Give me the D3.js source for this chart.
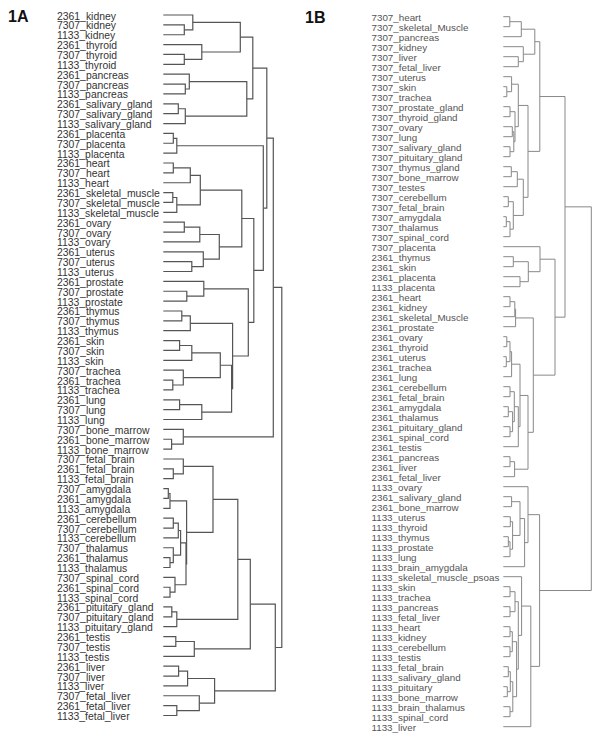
<!DOCTYPE html>
<html lang="en">
<head>
<meta charset="utf-8">
<title>Dendrograms 1A / 1B</title>
<script src="https://d3js.org/d3.v7.min.js"></script>
<style>
  body { margin: 0; background: #fff; }
  text { font-family: "Liberation Sans", Arial, sans-serif; }
</style>
</head>
<body>
<script>
var width = 600, height = 739;

// ---- panel 1A: leaves in plotted order ----
var leavesA = [
  "2361_kidney", "7307_kidney", "1133_kidney",
  "2361_thyroid", "7307_thyroid", "1133_thyroid",
  "2361_pancreas", "7307_pancreas", "1133_pancreas",
  "2361_salivary_gland", "7307_salivary_gland", "1133_salivary_gland",
  "2361_placenta", "7307_placenta", "1133_placenta",
  "2361_heart", "7307_heart", "1133_heart",
  "2361_skeletal_muscle", "7307_skeletal_muscle", "1133_skeletal_muscle",
  "2361_ovary", "7307_ovary", "1133_ovary",
  "2361_uterus", "7307_uterus", "1133_uterus",
  "2361_prostate", "7307_prostate", "1133_prostate",
  "2361_thymus", "7307_thymus", "1133_thymus",
  "2361_skin", "7307_skin", "1133_skin",
  "7307_trachea", "2361_trachea", "1133_trachea",
  "2361_lung", "7307_lung", "1133_lung",
  "7307_bone_marrow", "2361_bone_marrow", "1133_bone_marrow",
  "7307_fetal_brain", "2361_fetal_brain", "1133_fetal_brain",
  "7307_amygdala", "2361_amygdala", "1133_amygdala",
  "2361_cerebellum", "7307_cerebellum", "1133_cerebellum",
  "7307_thalamus", "2361_thalamus", "1133_thalamus",
  "7307_spinal_cord", "2361_spinal_cord", "1133_spinal_cord",
  "2361_pituitary_gland", "7307_pituitary_gland", "1133_pituitary_gland",
  "2361_testis", "7307_testis", "1133_testis",
  "2361_liver", "7307_liver", "1133_liver",
  "7307_fetal_liver", "2361_fetal_liver", "1133_fetal_liver"
];

// merges: [first leaf, first leaf of 2nd branch, last leaf, height]
var mergesA = [
  [1,2,2,21], [0,1,2,29.5], [4,5,5,21], [3,4,5,38.5], [0,3,5,77],
  [7,8,8,22], [6,7,8,26], [9,10,10,15], [9,11,11,22], [6,9,11,83.5], [0,6,11,89.5],
  [12,13,13,10], [12,14,14,13.5],
  [15,16,16,10], [15,17,17,27], [18,19,19,9.5], [18,20,20,13.5], [15,18,20,37],
  [21,22,22,21], [21,23,23,36.5], [25,26,26,28.5], [24,25,26,40], [21,24,26,56], [15,21,26,78.5],
  [28,29,29,23.5], [27,28,29,40.5],
  [30,31,31,18.5], [30,32,32,27],
  [33,34,34,16.3], [33,35,35,28.5], [37,38,38,9.5], [36,37,38,20], [33,36,38,57],
  [39,40,40,16.3], [39,41,41,38.5], [33,39,41,68.3], [30,33,41,69.3],
  [27,30,41,85], [15,27,41,90.5], [12,15,41,100], [0,12,41,103.5],
  [43,44,44,8.3], [42,43,44,20], [0,42,44,110],
  [46,47,47,10], [45,46,47,20],
  [48,49,49,5], [48,50,50,6.7],
  [51,52,52,10], [51,53,53,15], [55,56,56,6.7], [54,55,56,10], [51,54,56,17.3],
  [58,59,59,6.7], [57,58,59,11.7], [51,57,59,22.7], [48,51,59,23.3], [45,48,59,49.7],
  [60,61,61,8.5], [60,62,62,13.5], [45,60,62,74.5],
  [63,64,64,12.5], [63,65,65,31], [45,63,65,87],
  [66,67,67,15.3], [66,68,68,24.3], [70,71,71,13.5], [69,70,71,36], [66,69,71,51.3],
  [45,66,71,112], [0,45,71,118.5]
];

// ---- panel 1B ----
var leavesB = [
  "7307_heart", "7307_skeletal_Muscle", "7307_pancreas", "7307_kidney", "7307_liver",
  "7307_fetal_liver", "7307_uterus", "7307_skin", "7307_trachea", "7307_prostate_gland",
  "7307_thyroid_gland", "7307_ovary", "7307_lung", "7307_salivary_gland", "7307_pituitary_gland",
  "7307_thymus_gland", "7307_bone_marrow", "7307_testes", "7307_cerebellum", "7307_fetal_brain",
  "7307_amygdala", "7307_thalamus", "7307_spinal_cord", "7307_placenta", "2361_thymus",
  "2361_skin", "2361_placenta", "1133_placenta", "2361_heart", "2361_kidney",
  "2361_skeletal_Muscle", "2361_prostate", "2361_ovary", "2361_thyroid", "2361_uterus",
  "2361_trachea", "2361_lung", "2361_cerebellum", "2361_fetal_brain", "2361_amygdala",
  "2361_thalamus", "2361_pituitary_gland", "2361_spinal_cord", "2361_testis", "2361_pancreas",
  "2361_liver", "2361_fetal_liver", "1133_ovary", "2361_salivary_gland", "2361_bone_marrow",
  "1133_uterus", "1133_thyroid", "1133_thymus", "1133_prostate", "1133_lung",
  "1133_brain_amygdala", "1133_skeletal_muscle_psoas", "1133_skin", "1133_trachea", "1133_pancreas",
  "1133_fetal_liver", "1133_heart", "1133_kidney", "1133_cerebellum", "1133_testis",
  "1133_fetal_brain", "1133_salivary_gland", "1133_pituitary", "1133_bone_marrow", "1133_brain_thalamus",
  "1133_spinal_cord", "1133_liver"
];

var mergesB = [
  [0,1,1,6.5], [0,2,2,18], [4,5,5,15], [3,4,5,20], [0,3,5,31.5],
  [7,8,8,3.5], [6,7,8,8.3], [9,10,10,6.7], [11,12,12,9], [13,14,14,6.7],
  [11,13,14,10.5], [9,11,14,11.7], [6,9,14,15],
  [15,16,16,8], [15,17,17,14], [18,19,19,5], [20,21,21,3], [20,22,22,6.7],
  [18,20,22,10], [15,18,22,20], [6,15,22,24.7], [0,6,22,36.5],
  [24,25,25,10], [26,27,27,16.7], [24,26,27,25], [23,24,27,36.7],
  [28,29,29,6.7], [28,30,30,11.5], [28,31,31,12.3],
  [32,33,33,3.5], [34,35,35,3], [32,34,35,6.7], [32,36,36,8.3],
  [37,38,38,6.7], [39,40,40,5], [41,42,42,6.7], [39,41,42,9.3], [37,39,42,11], [37,43,43,15],
  [32,37,43,16.7], [44,45,45,6.7], [44,46,46,11.3], [32,44,46,24.7],
  [28,32,46,30], [23,28,46,51.7], [0,23,46,61.7],
  [48,49,49,8.3], [50,51,51,7], [52,53,53,5], [52,54,54,6.7], [50,52,54,9.3],
  [48,50,54,16.7], [48,55,55,21.3], [47,48,55,24.7],
  [57,58,58,6.7], [59,60,60,6.7], [57,59,60,11.7],
  [61,62,62,6.7], [63,64,64,6.7], [61,63,64,9],
  [65,66,66,5], [67,68,68,4], [65,67,68,7], [69,70,70,6.7], [65,69,70,9.5],
  [61,65,70,13.3], [57,61,70,15], [56,57,70,18.3], [56,71,71,27.5],
  [47,56,71,36.3], [0,47,71,88]
];

var svg = d3.select("body").append("svg")
    .attr("width", width)
    .attr("height", height);

function buildTree(leaves, merges) {
  var nodes = new Map();
  leaves.forEach(function(name, i) { nodes.set(i + "-" + i, {name: name, height: 0}); });
  merges.forEach(function(m) {
    var left = nodes.get(m[0] + "-" + (m[1] - 1)),
        right = nodes.get(m[1] + "-" + m[2]);
    if (!left || !right) throw new Error("bad merge " + m);
    nodes.set(m[0] + "-" + m[2], {height: m[3], children: [left, right]});
  });
  return d3.hierarchy(nodes.get("0-" + (leaves.length - 1)));
}

function drawPanel(cfg) {
  var root = buildTree(cfg.leaves, cfg.merges);

  var y = d3.scalePoint().domain(cfg.leaves).range(cfg.yRange);
  var x = d3.scaleLinear().domain(cfg.hDomain).range(cfg.xRange);

  // leaf y from the point scale, inner node y = midpoint of its two children
  root.eachAfter(function(d) {
    d.px = x(d.data.height);
    d.py = d.children ? (d.children[0].py + d.children[1].py) / 2 : y(d.data.name);
  });

  var g = svg.append("g");

  g.selectAll("path")
    .data(root.descendants().filter(function(d) { return d.children; }))
    .enter().append("path")
    .attr("fill", "none")
    .attr("stroke", cfg.lineColor)
    .attr("stroke-width", cfg.lineWidth)
    .attr("d", function(d) {
      var a = d.children[0], b = d.children[1];
      return "M" + a.px + "," + a.py + "H" + d.px + "V" + b.py + "H" + b.px;
    });

  g.selectAll("text")
    .data(cfg.leaves)
    .enter().append("text")
    .attr("x", cfg.labelX)
    .attr("y", function(d) { return y(d) + 1; })
    .attr("dominant-baseline", "central")
    .attr("font-size", cfg.fontSize)
    .attr("fill", cfg.textColor)
    .text(function(d) { return d; });

  svg.append("text")
    .attr("x", cfg.titleX)
    .attr("y", cfg.titleY)
    .attr("font-size", 16)
    .attr("font-weight", "bold")
    .attr("fill", "#111")
    .text(cfg.title);
}

drawPanel({
  title: "1A", titleX: 8, titleY: 22,
  leaves: leavesA, merges: mergesA,
  yRange: [15, 715.5], hDomain: [0, 120], xRange: [163.3, 283.3],
  labelX: 57, fontSize: 10.4, textColor: "#333",
  lineColor: "#555", lineWidth: 1.2
});

drawPanel({
  title: "1B", titleX: 305, titleY: 23,
  leaves: leavesB, merges: mergesB,
  yRange: [16.7, 726.7], hDomain: [0, 90], xRange: [503.3, 593.3],
  labelX: 371.5, fontSize: 9.8, textColor: "#555",
  lineColor: "#888", lineWidth: 1
});
</script>
</body>
</html>
